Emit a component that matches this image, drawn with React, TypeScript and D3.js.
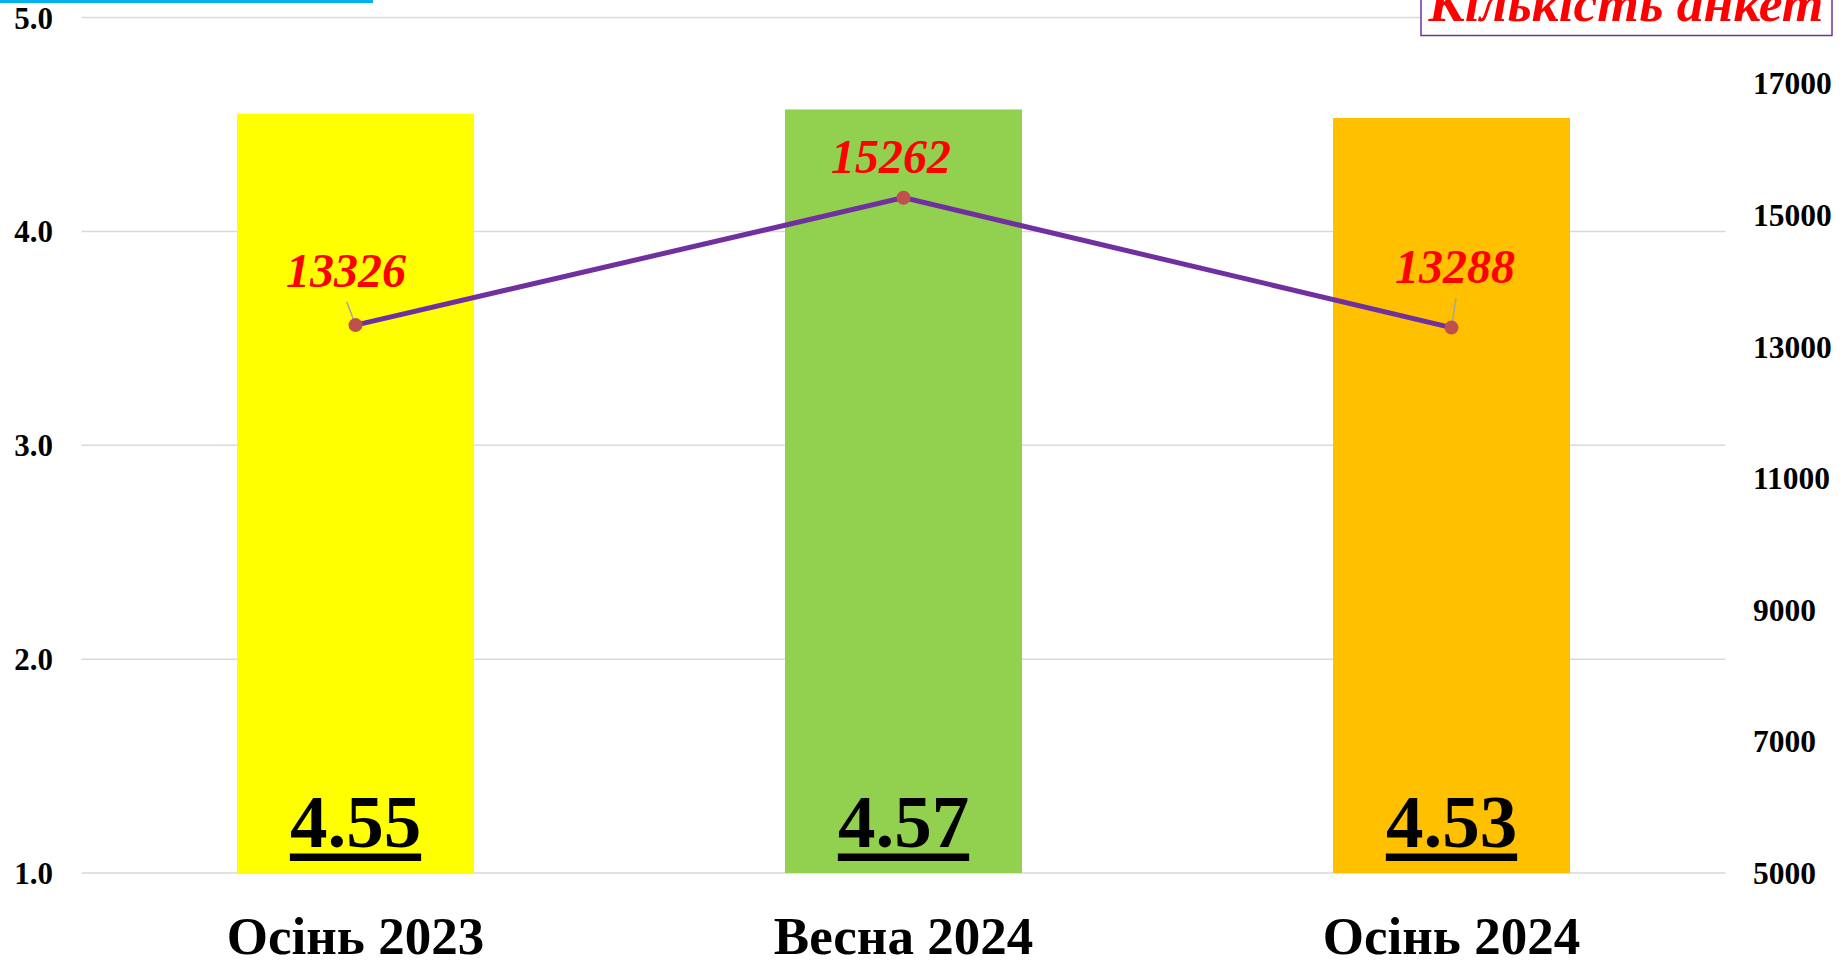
import React from "react";
import * as d3 from "d3";

const categories = ["Осінь 2023", "Весна 2024", "Осінь 2024"];
const scores = [4.55, 4.57, 4.53];
const counts = [13326, 15262, 13288];
const barColors = ["#FFFF00", "#92D050", "#FFC000"];
const leftTicks = [1, 2, 3, 4, 5];
const rightTicks = [5000, 7000, 9000, 11000, 13000, 15000, 17000];
const legendLabel = "Кількість анкет";

// label offsets relative to points (layout only)
const countLabelOffsets = [
  { dx: -9.5, dy: -38, leader: true },
  { dx: -12.5, dy: -25, leader: false },
  { dx: 3.5, dy: -44.5, leader: true },
];

const W = 1847;
const H = 962;
const FONT = '"Times New Roman", "Liberation Serif", serif';

export default function App() {
  const x = d3
    .scaleBand<string>()
    .domain(categories)
    .range([81.5, 1725.5])
    .paddingInner(0.5675)
    .paddingOuter(0.28375);
  const yL = d3.scaleLinear().domain([1, 5]).range([873, 17.5]);
  const yR = d3.scaleLinear().domain([5000, 18000]).range([873, 17.5]);
  const cx = (c: string) => (x(c) as number) + x.bandwidth() / 2;

  const line = d3
    .line<number>()
    .x((_, i) => cx(categories[i]))
    .y((d) => yR(d));

  const barFont = 75;
  const underlineW = barFont * 1.75;

  return (
    <svg
      width={W}
      height={H}
      style={{ position: "absolute", left: 0, top: 0, background: "#fff" }}
      fontFamily={FONT}
    >
      <rect x={0} y={0} width={373} height={3} fill="#00B0F0" />
      {leftTicks.map((t) => (
        <g key={t}>
          <line x1={81.5} x2={1725.5} y1={yL(t)} y2={yL(t)} stroke="#D9D9D9" strokeWidth={1.5} />
          <text x={53} y={yL(t) + 11} textAnchor="end" fontWeight="bold" fontSize={31} fill="#000">
            {t.toFixed(1)}
          </text>
        </g>
      ))}
      {rightTicks.map((t) => (
        <text key={t} x={1753} y={yR(t) + 11} textAnchor="start" fontWeight="bold" fontSize={31.5} fill="#000">
          {t}
        </text>
      ))}
      {categories.map((c, i) => (
        <g key={c}>
          <rect
            x={x(c)}
            y={yL(scores[i])}
            width={x.bandwidth()}
            height={yL(1) - yL(scores[i])}
            fill={barColors[i]}
          />
          <text x={cx(c)} y={yL(1) - 26} textAnchor="middle" fontWeight="bold" fontSize={barFont} fill="#000">
            {scores[i].toFixed(2)}
          </text>
          <rect x={cx(c) - underlineW / 2} y={yL(1) - 19.5} width={underlineW} height={7.5} fill="#000" />
          <text x={cx(c)} y={954} textAnchor="middle" fontWeight="bold" fontSize={53} fill="#000">
            {c}
          </text>
        </g>
      ))}
      <path d={line(counts) || ""} fill="none" stroke="#7030A0" strokeWidth={5} />
      {counts.map((v, i) => {
        const px = cx(categories[i]);
        const py = yR(v);
        const o = countLabelOffsets[i];
        return (
          <g key={i}>
            {o.leader && (
              <line
                x1={px + (o.dx > 0 ? 4.5 : -8.8)}
                y1={py + (o.dx > 0 ? -29.6 : -23.3)}
                x2={px}
                y2={py}
                stroke="#A6A6A6"
                strokeWidth={1.5}
              />
            )}
            <circle cx={px} cy={py} r={7} fill="#C0504D" />
            <text
              x={px + o.dx}
              y={py + o.dy}
              textAnchor="middle"
              fontWeight="bold"
              fontStyle="italic"
              fontSize={48}
              fill="#FF0000"
            >
              {v}
            </text>
          </g>
        );
      })}
      <rect x={1421} y={-30} width={411} height={65.5} fill="#fff" stroke="#7030A0" strokeWidth={1.5} />
      <text
        x={1626}
        y={21}
        textAnchor="middle"
        fontWeight="bold"
        fontStyle="italic"
        fontSize={53.5}
        fill="#FF0000"
      >
        {legendLabel}
      </text>
    </svg>
  );
}
